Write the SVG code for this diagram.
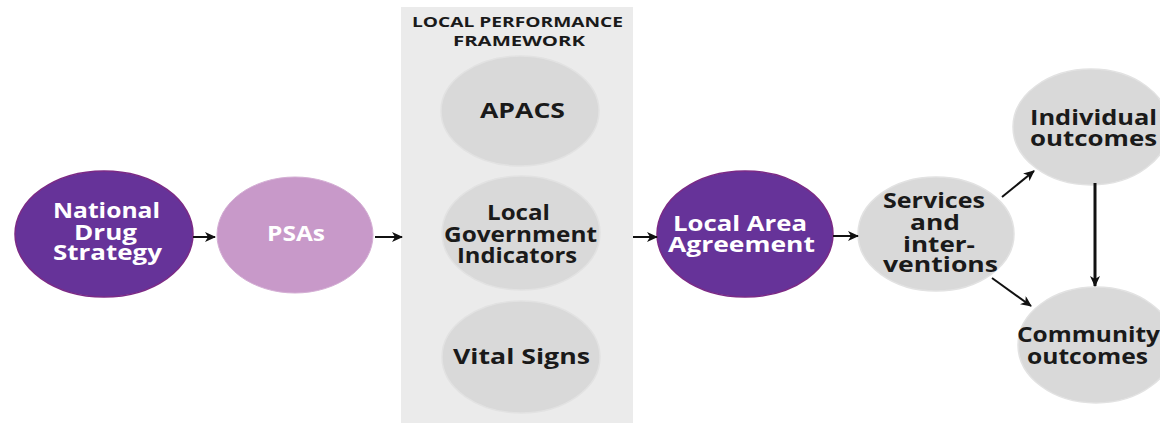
<svg xmlns="http://www.w3.org/2000/svg" width="1160" height="423" viewBox="0 0 1160 423">
<defs>
<style>
.t{font-family:"Open Sans","DejaVu Sans","Liberation Sans",sans-serif;font-weight:bold;font-size:21px}
.w{fill:#ffffff}
.k{fill:#1a1a1a}
.ttl{font-family:"Open Sans","DejaVu Sans","Liberation Sans",sans-serif;font-weight:bold;font-size:14px;fill:#1a1a1a}
.dark{fill:#663399;stroke:#7b2a86;stroke-width:1.5}
.light{fill:#c899c9;stroke:#d4aed4;stroke-width:1}
.gray{fill:#d9d9d9;stroke:#e2e2e2;stroke-width:1.5}
.c{stroke:#111111;stroke-width:2;fill:none}
</style>
<marker id="ah" markerUnits="userSpaceOnUse" markerWidth="11" markerHeight="10" refX="10" refY="5" orient="auto">
<path d="M0,0 L11,5 L0,10 L3,5 z" fill="#111111"/>
</marker>
</defs>
<rect width="1160" height="423" fill="#ffffff"/>
<g id="panel">
<rect x="401" y="7" width="232" height="416" fill="#ebebeb"/>
<text class="ttl" x="412" y="27" textLength="211" lengthAdjust="spacingAndGlyphs">LOCAL PERFORMANCE</text>
<text class="ttl" x="453" y="46" textLength="132" lengthAdjust="spacingAndGlyphs">FRAMEWORK</text>
</g>
<g id="nds">
<ellipse class="dark" cx="104" cy="234" rx="89" ry="63"/>
<text class="t w" x="53" y="218" textLength="107" lengthAdjust="spacingAndGlyphs">National</text>
<text class="t w" x="74" y="240" textLength="63" lengthAdjust="spacingAndGlyphs">Drug</text>
<text class="t w" x="53" y="260" textLength="109" lengthAdjust="spacingAndGlyphs">Strategy</text>
</g>
<g id="psas">
<ellipse class="light" cx="295" cy="235" rx="78" ry="58"/>
<text class="t w" x="267" y="241" textLength="58" lengthAdjust="spacingAndGlyphs">PSAs</text>
</g>
<g id="apacs">
<ellipse class="gray" cx="520" cy="111" rx="79" ry="55"/>
<text class="t k" x="480" y="118" textLength="85" lengthAdjust="spacingAndGlyphs">APACS</text>
</g>
<g id="lgi">
<ellipse class="gray" cx="521" cy="233" rx="79" ry="57"/>
<text class="t k" x="487" y="220" textLength="63" lengthAdjust="spacingAndGlyphs">Local</text>
<text class="t k" x="444" y="242" textLength="153" lengthAdjust="spacingAndGlyphs">Government</text>
<text class="t k" x="457" y="263" textLength="120" lengthAdjust="spacingAndGlyphs">Indicators</text>
</g>
<g id="vital">
<ellipse class="gray" cx="521" cy="357" rx="79" ry="56"/>
<text class="t k" x="453" y="364" textLength="137" lengthAdjust="spacingAndGlyphs">Vital Signs</text>
</g>
<g id="laa">
<ellipse class="dark" cx="745" cy="234" rx="88" ry="63"/>
<text class="t w" x="673" y="231" textLength="134" lengthAdjust="spacingAndGlyphs">Local Area</text>
<text class="t w" x="668" y="252" textLength="147" lengthAdjust="spacingAndGlyphs">Agreement</text>
</g>
<g id="services">
<ellipse class="gray" cx="936" cy="234" rx="78" ry="57"/>
<text class="t k" x="883" y="208" textLength="102" lengthAdjust="spacingAndGlyphs">Services</text>
<text class="t k" x="910" y="230" textLength="50" lengthAdjust="spacingAndGlyphs">and</text>
<text class="t k" x="903" y="252" textLength="72" lengthAdjust="spacingAndGlyphs">inter-</text>
<text class="t k" x="883" y="272" textLength="115" lengthAdjust="spacingAndGlyphs">ventions</text>
</g>
<g id="individual">
<ellipse class="gray" cx="1091" cy="127" rx="78" ry="58"/>
<text class="t k" x="1030" y="125" textLength="127" lengthAdjust="spacingAndGlyphs">Individual</text>
<text class="t k" x="1030" y="146" textLength="127" lengthAdjust="spacingAndGlyphs">outcomes</text>
</g>
<g id="community">
<ellipse class="gray" cx="1096" cy="345" rx="78" ry="58"/>
<text class="t k" x="1017" y="342" textLength="143" lengthAdjust="spacingAndGlyphs">Community</text>
<text class="t k" x="1027" y="364" textLength="121" lengthAdjust="spacingAndGlyphs">outcomes</text>
</g>
<g id="connectors">
<line class="c" x1="193" y1="237" x2="215" y2="237" marker-end="url(#ah)"/>
<line class="c" x1="375" y1="237" x2="402" y2="237" marker-end="url(#ah)"/>
<line class="c" x1="633" y1="237" x2="657" y2="237" marker-end="url(#ah)"/>
<line class="c" x1="833" y1="236" x2="858" y2="236" marker-end="url(#ah)"/>
<line class="c" x1="1002" y1="197" x2="1034" y2="171" marker-end="url(#ah)"/>
<line class="c" x1="992" y1="278" x2="1031" y2="306" marker-end="url(#ah)"/>
<line class="c" style="stroke-width:3" x1="1095" y1="183" x2="1095" y2="286" marker-end="url(#ah)"/>
</g>
</svg>
